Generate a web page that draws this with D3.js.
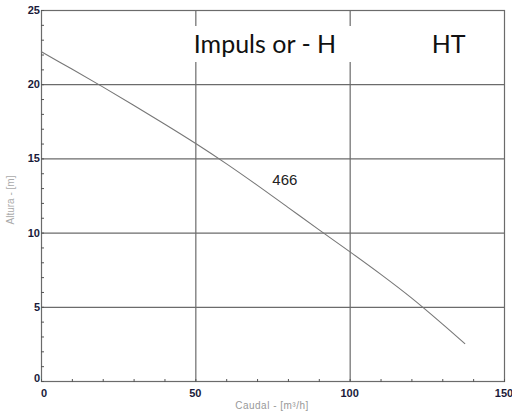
<!DOCTYPE html>
<html><head><meta charset="utf-8">
<script src="https://cdn.jsdelivr.net/npm/d3@7"></script>
<style>body{margin:0;background:#fff}svg{display:block}</style>
</head><body><svg id="c" width="512" height="417"></svg>
<script>
const flow = [0,10,20,30,40,50,60,70,80,90,100,110,120,130,137.4];
const head = [22.2,21.02,19.82,18.58,17.32,16.02,14.65,13.2,11.7,10.2,8.72,7.2,5.6,3.85,2.5];
const xTicks = [0,50,100,150];
const yTicks = [0,5,10,15,20,25];
const zones = [{label:"Impuls or - H", at:49.5},{label:"HT", at:126.6}];
const curveLabel = {text:"466", x:79, y:13.2};

const svg = d3.select("#c");
const L=41,R=504,T=10,B=381;
const x = d3.scaleLinear().domain([0,150]).range([L,R]);
const y = d3.scaleLinear().domain([0,25]).range([B,T]);
const grid="#6b6b6b";

svg.selectAll(".hg").data(yTicks.filter(d=>d>0&&d<25)).join("line")
 .attr("x1",L).attr("x2",R).attr("y1",d=>y(d)+0.5).attr("y2",d=>y(d)+0.5)
 .attr("stroke",grid).attr("stroke-width",1.2);
[50,100].forEach(v=>{
  svg.append("line").attr("x1",x(v)+0.5).attr("x2",x(v)+0.5).attr("y1",T).attr("y2",26).attr("stroke",grid).attr("stroke-width",1.2);
  svg.append("line").attr("x1",x(v)+0.5).attr("x2",x(v)+0.5).attr("y1",62).attr("y2",B).attr("stroke",grid).attr("stroke-width",1.2);
});
svg.append("rect").attr("x",L+0.5).attr("y",T+0.5).attr("width",R-L).attr("height",B-T)
 .attr("fill","none").attr("stroke",grid).attr("stroke-width",1.2);

svg.selectAll(".mx").data(d3.range(0,151,10)).join("line")
 .attr("x1",d=>x(d)+0.5).attr("x2",d=>x(d)+0.5).attr("y1",B-2).attr("y2",B+1).attr("stroke","#555");
svg.selectAll(".my").data(d3.range(0,26,1)).join("line")
 .attr("x1",L).attr("x2",L+3).attr("y1",d=>y(d)+0.5).attr("y2",d=>y(d)+0.5).attr("stroke","#555");

svg.selectAll(".xl").data(xTicks).join("text")
 .attr("x",d=>x(d)+(d===0?3:0)).attr("y",B+16).attr("text-anchor","middle")
 .attr("font-family","Liberation Sans, Arial").attr("font-size",11).attr("font-weight","bold").attr("fill","#1a1a3a")
 .text(d=>d);
svg.selectAll(".yl").data(yTicks).join("text")
 .attr("x",L-1).attr("y",d=>y(d)+4 - (d===0?3:0)).attr("text-anchor","end")
 .attr("font-family","Liberation Sans, Arial").attr("font-size",11).attr("font-weight","bold").attr("fill","#1a1a3a")
 .text(d=>d);

svg.append("text").attr("x",272).attr("y",409).attr("text-anchor","middle")
 .attr("font-family","Liberation Sans, Arial").attr("font-size",10).attr("fill","#999").attr("letter-spacing",0.5)
 .text("Caudal - [m³/h]");
svg.append("text").attr("transform","translate(14,200) rotate(-90)").attr("text-anchor","middle")
 .attr("font-family","Liberation Sans, Arial").attr("font-size",10).attr("fill","#aaa")
 .text("Altura - [m]");

svg.selectAll(".zl").data(zones).join("text")
 .attr("x",d=>x(d.at)).attr("y",53).attr("text-anchor","start")
 .attr("font-family","Lato, Open Sans, sans-serif").attr("font-size",25).attr("fill","#111")
 .text(d=>d.label);

const line = d3.line().x((d,i)=>x(flow[i])).y(d=>y(d)).curve(d3.curveCatmullRom);
svg.append("path").attr("d",line(head)).attr("fill","none").attr("stroke","#777").attr("stroke-width",1.1);

svg.append("text").attr("x",x(curveLabel.x)).attr("y",y(curveLabel.y)).attr("text-anchor","middle")
 .attr("font-family","Liberation Sans, Arial").attr("font-size",15).attr("fill","#222")
 .text(curveLabel.text);
</script></body></html>
